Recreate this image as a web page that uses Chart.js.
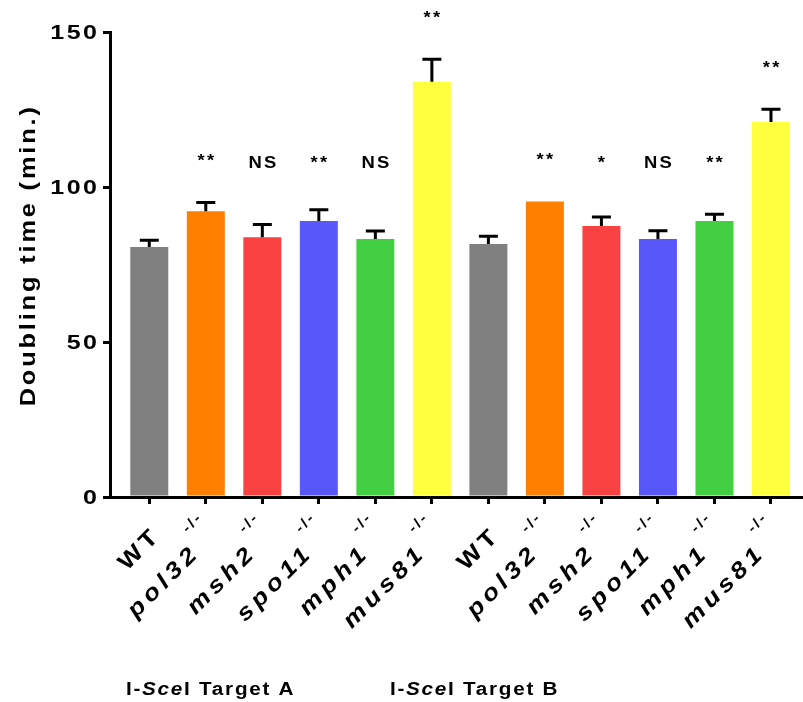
<!DOCTYPE html>
<html>
<head>
<meta charset="utf-8">
<script src="https://cdn.jsdelivr.net/npm/chart.js@4.4.1/dist/chart.umd.min.js"></script>
<style>
  html, body { margin: 0; padding: 0; background: #fff; overflow: hidden; }
  #wrap { width: 803px; height: 702px; position: relative; }
</style>
</head>
<body>
<div id="wrap"><canvas id="c"></canvas></div>
<script>
// Strains measured in each I-SceI target background
const strains = ['WT', 'pol32', 'msh2', 'spo11', 'mph1', 'mus81'];
const targets = ['I-SceI Target A', 'I-SceI Target B'];

// Mean doubling time (min.) and upper error (SEM) per strain
const doublingA = [80.7, 92.3, 83.9, 89.1, 83.3, 134.1];
const semA      = [2.2, 2.8, 4.1, 3.7, 2.6, 7.3];
const doublingB = [81.7, 95.4, 87.5, 83.3, 89.1, 121.1];
const semB      = [2.5, 0, 2.9, 2.7, 2.2, 4.1];

// Significance versus WT
const signifA = ['', '**', 'NS', '**', 'NS', '**'];
const signifB = ['', '**', '*', 'NS', '**', '**'];

const yTicks = [0, 50, 100, 150];
const yTitle = 'Doubling time (min.)';
const mutantSuffix = '-/-';

// ---- derived tables ----
const labels = strains.concat(strains);
const values = doublingA.concat(doublingB);
const errors = semA.concat(semB);
const signif = signifA.concat(signifB);

const colours = ['#808080', '#FF8000', '#FA4242', '#5858FA', '#42CF42', '#FFFF40'];
const FAMILY = '"Liberation Sans", Arial, sans-serif';

// Draw a row of text runs (mixed styles) in a rotated, horizontally widened frame
function drawRuns(ctx, runs, x, y, o) {
  ctx.save();
  ctx.translate(x, y);
  if (o.rot) ctx.rotate(o.rot);
  ctx.scale(o.sx || 1, 1);
  ctx.fillStyle = '#000';
  ctx.textAlign = 'left';
  ctx.textBaseline = o.base || 'alphabetic';
  const widths = runs.map(r => {
    ctx.font = r.font;
    ctx.letterSpacing = (r.ls || 0) + 'px';
    return ctx.measureText(r.t).width;
  });
  let total = widths.reduce((a, b) => a + b, 0) + runs.reduce((a, r) => a + (r.gap || 0), 0);
  total -= runs[runs.length - 1].ls || 0;
  let cx = o.align === 'right' ? -total : o.align === 'center' ? -total / 2 : 0;
  runs.forEach((r, i) => {
    cx += r.gap || 0;
    ctx.font = r.font;
    ctx.letterSpacing = (r.ls || 0) + 'px';
    ctx.fillText(r.t, cx, r.dy || 0);
    cx += widths[i];
  });
  ctx.restore();
}

// Strain label: name right-aligned before a reserved slot, genotype suffix raised above its end
function drawStrain(ctx, name, x, y) {
  const mutant = name !== 'WT';
  const reserve = mutant ? 22 : 0;
  ctx.save();
  ctx.translate(x, y);
  ctx.rotate(-Math.PI / 4);
  ctx.scale(1.15, 1);
  ctx.fillStyle = '#000';
  ctx.textBaseline = 'alphabetic';
  ctx.textAlign = 'left';
  ctx.font = (mutant ? 'italic ' : '') + 'bold 23px ' + FAMILY;
  ctx.letterSpacing = '4px';
  const w = ctx.measureText(name).width - 4;
  ctx.fillText(name, -reserve - w, 0);
  if (mutant) {
    ctx.font = 'bold 14px ' + FAMILY;
    ctx.letterSpacing = '2px';
    ctx.fillText(mutantSuffix, -reserve + 8, -24);
  }
  ctx.restore();
}

const errorBars = {
  id: 'errorBars',
  afterDatasetsDraw(chart) {
    const { ctx } = chart;
    const yScale = chart.scales.y;
    const meta = chart.getDatasetMeta(0);
    ctx.save();
    ctx.strokeStyle = '#000';
    ctx.lineWidth = 3;
    ctx.lineCap = 'butt';
    meta.data.forEach((bar, i) => {
      const e = errors[i];
      if (!e) return;
      const top = yScale.getPixelForValue(values[i] + e);
      ctx.beginPath();
      ctx.moveTo(bar.x, bar.y);
      ctx.lineTo(bar.x, top);
      ctx.moveTo(bar.x - 9.5, top);
      ctx.lineTo(bar.x + 9.5, top);
      ctx.stroke();
    });
    ctx.restore();
  }
};

const textLayer = {
  id: 'textLayer',
  afterDraw(chart) {
    const { ctx } = chart;
    const xs = chart.scales.x, ys = chart.scales.y;
    const axisX = chart.chartArea.left, axisY = chart.chartArea.bottom;

    // y tick labels
    yTicks.forEach(v => {
      drawRuns(ctx, [{ t: String(v), font: 'bold 20px ' + FAMILY, ls: 2 }],
        axisX - 13, ys.getPixelForValue(v) + 1, { sx: 1.25, align: 'right', base: 'middle' });
    });

    // y axis title
    drawRuns(ctx, [{ t: yTitle, font: 'bold 22px ' + FAMILY, ls: 2.5 }],
      35, (chart.chartArea.top + axisY) / 2 - 8, { rot: -Math.PI / 2, sx: 1.15, align: 'center' });

    // strain labels under each bar
    labels.forEach((name, i) => {
      drawStrain(ctx, name, xs.getPixelForValue(i) + 10, axisY + 42);
    });

    // significance marks above bars
    const meta = chart.getDatasetMeta(0);
    meta.data.forEach((bar, i) => {
      if (!signif[i]) return;
      const level = Math.max(106.4, values[i] + errors[i] + 11.7);
      drawRuns(ctx, [{ t: signif[i], font: 'bold 16px ' + FAMILY, ls: 2 }],
        bar.x, ys.getPixelForValue(level), { sx: 1.15, align: 'center' });
    });

    // target group captions
    const groupCentre = [1.07, 5.74];
    targets.forEach((t, g) => {
      const runs = [
        { t: t.slice(0, 2), font: 'bold 18px ' + FAMILY, ls: 1.5 },
        { t: t.slice(2, 5), font: 'italic bold 18px ' + FAMILY, ls: 1.5 },
        { t: t.slice(5), font: 'bold 18px ' + FAMILY, ls: 1.5 }
      ];
      drawRuns(ctx, runs, xs.getPixelForValue(groupCentre[g]), 695, { sx: 1.15, align: 'center' });
    });
  }
};

const axisLine = { width: 3, color: '#000' };
const tickMarks = { drawOnChartArea: false, drawTicks: true, tickLength: 7, lineWidth: 3, color: '#000', offset: false };

new Chart(document.getElementById('c'), {
  type: 'bar',
  data: {
    datasets: [{
      data: values.map((v, i) => ({ x: i, y: v })),
      backgroundColor: colours.concat(colours),
      borderWidth: 0,
      categoryPercentage: 0.672,
      barPercentage: 1
    }]
  },
  options: {
    responsive: true,
    maintainAspectRatio: false,
    animation: false,
    layout: { padding: { top: 32.5, right: 1.5, left: 0, bottom: 0 } },
    plugins: { legend: { display: false }, tooltip: { enabled: false } },
    scales: {
      x: {
        type: 'linear',
        offset: false,
        min: -0.695,
        max: 11.54,
        afterBuildTicks: s => { s.ticks = labels.map((_, i) => ({ value: i })); },
        afterFit: s => { s.height = 205; },
        ticks: { display: false },
        grid: tickMarks,
        border: axisLine
      },
      y: {
        min: 0,
        max: 150,
        afterBuildTicks: s => { s.ticks = yTicks.map(v => ({ value: v })); },
        afterFit: s => { s.width = 110; },
        ticks: { display: false },
        grid: tickMarks,
        border: axisLine
      }
    }
  },
  plugins: [errorBars, textLayer]
});
</script>
</body>
</html>
